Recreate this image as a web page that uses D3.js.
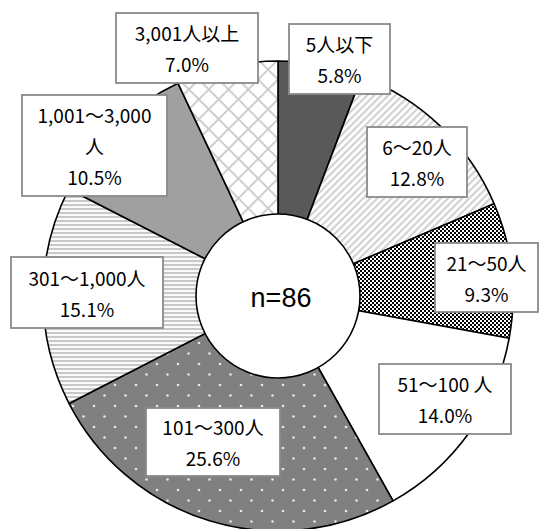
<!DOCTYPE html>
<html><head><meta charset="utf-8">
<script src="https://cdn.jsdelivr.net/npm/d3@7"></script>
<style>
html,body{margin:0;padding:0;background:#fff;}
svg{display:block;}
</style></head>
<body>
<script>
// ---- data ----
const categories = ["5人以下", "6～20人", "21～50人", "51～100 人", "101～300人", "301～1,000人", "1,001～3,000人", "3,001人以上"];
const percents = [5.8, 12.8, 9.3, 14.0, 25.6, 15.1, 10.5, 7.0];
const labelLines = [
  ["5人以下", "5.8%"],
  ["6～20人", "12.8%"],
  ["21～50人", "9.3%"],
  ["51～100 人", "14.0%"],
  ["101～300人", "25.6%"],
  ["301～1,000人", "15.1%"],
  ["1,001～3,000", "人", "10.5%"],
  ["3,001人以上", "7.0%"]
];
const centerLabel = "n=86";

// ---- layout (label boxes: x0,y0,x1,y1) ----
const labelBoxes = [
  [289, 24, 390, 94],
  [367, 127, 467, 197],
  [435, 243, 538, 312],
  [379, 364, 511, 434],
  [146, 408, 280, 476],
  [11, 257, 163, 328],
  [22, 95, 167, 196],
  [116, 13, 258, 83]
];
const fills = ["#595959", "url(#pDiag)", "url(#pCheck)", "#ffffff", "url(#pDots)", "url(#pHoriz)", "#a0a0a0", "url(#pLattice)"];

const W = 540, H = 529;
const cx = 278, cy = 296, R = 235, r0 = 82;

const svg = d3.select("body").append("svg").attr("width", W).attr("height", H);
const defs = svg.append("defs");

// diagonal stripes
let p = defs.append("pattern").attr("id", "pDiag").attr("patternUnits", "userSpaceOnUse")
  .attr("width", 5).attr("height", 5).attr("patternTransform", "rotate(45)");
p.append("rect").attr("width", 5).attr("height", 5).attr("fill", "#fff");
p.append("rect").attr("width", 2.2).attr("height", 5).attr("fill", "#d2d2d2");

// checker
p = defs.append("pattern").attr("id", "pCheck").attr("patternUnits", "userSpaceOnUse")
  .attr("width", 4).attr("height", 4);
p.append("rect").attr("width", 4).attr("height", 4).attr("fill", "#fff");
p.append("rect").attr("x", 0).attr("y", 0).attr("width", 2).attr("height", 2).attr("fill", "#000");
p.append("rect").attr("x", 2).attr("y", 2).attr("width", 2).attr("height", 2).attr("fill", "#000");

// dots on gray
p = defs.append("pattern").attr("id", "pDots").attr("patternUnits", "userSpaceOnUse")
  .attr("width", 21).attr("height", 21);
p.append("rect").attr("width", 21).attr("height", 21).attr("fill", "#808080");
[[5, 5], [15.5, 15.5]].forEach(d => p.append("circle").attr("cx", d[0]).attr("cy", d[1]).attr("r", 1.3).attr("fill", "#e8e8e8"));

// horizontal stripes
p = defs.append("pattern").attr("id", "pHoriz").attr("patternUnits", "userSpaceOnUse")
  .attr("width", 4).attr("height", 4);
p.append("rect").attr("width", 4).attr("height", 4).attr("fill", "#fafafa");
p.append("rect").attr("y", 0).attr("width", 4).attr("height", 2).attr("fill", "#c8c8c8");

// lattice
p = defs.append("pattern").attr("id", "pLattice").attr("patternUnits", "userSpaceOnUse")
  .attr("width", 14).attr("height", 14).attr("patternTransform", "rotate(45)");
p.append("rect").attr("width", 14).attr("height", 14).attr("fill", "#fff");
p.append("rect").attr("width", 1.8).attr("height", 14).attr("fill", "#cacaca");
p.append("rect").attr("width", 14).attr("height", 1.8).attr("fill", "#cacaca");

const pie = d3.pie().sort(null).value(d => d);
const arc = d3.arc().innerRadius(0).outerRadius(R);
const arcs = pie(percents);

const g = svg.append("g").attr("transform", `translate(${cx},${cy})`);
g.selectAll("path.slice").data(arcs).enter().append("path")
  .attr("class", "slice")
  .attr("d", arc)
  .attr("fill", (d, i) => fills[i])
  .attr("stroke", "#000")
  .attr("stroke-width", 1.6)
  .attr("stroke-linejoin", "round");

g.append("circle").attr("r", r0).attr("fill", "#fff").attr("stroke", "#000").attr("stroke-width", 1.6);
g.append("text").attr("x", 3).attr("y", 2).attr("text-anchor", "middle").attr("dominant-baseline", "central")
  .attr("font-family", "'Liberation Sans', Arial, sans-serif").attr("font-size", 27).attr("fill", "#000")
  .text(centerLabel);

// labels
const lg = svg.append("g");
labelBoxes.forEach((b, i) => {
  const gi = lg.append("g");
  gi.append("rect").attr("x", b[0]).attr("y", b[1]).attr("width", b[2] - b[0]).attr("height", b[3] - b[1])
    .attr("fill", "#fff").attr("stroke", "#8a8a8a").attr("stroke-width", 1.8);
  const lines = labelLines[i];
  const mx = (b[0] + b[2]) / 2, my = (b[1] + b[3]) / 2;
  const step = 31;
  lines.forEach((t, k) => {
    gi.append("text").attr("x", mx).attr("y", my + (k - (lines.length - 1) / 2) * step)
      .attr("text-anchor", "middle").attr("dominant-baseline", "central")
      .attr("font-family", "'Noto Sans CJK JP', sans-serif").attr("font-size", 19).attr("fill", "#000")
      .text(t);
  });
});
</script>
</body></html>
